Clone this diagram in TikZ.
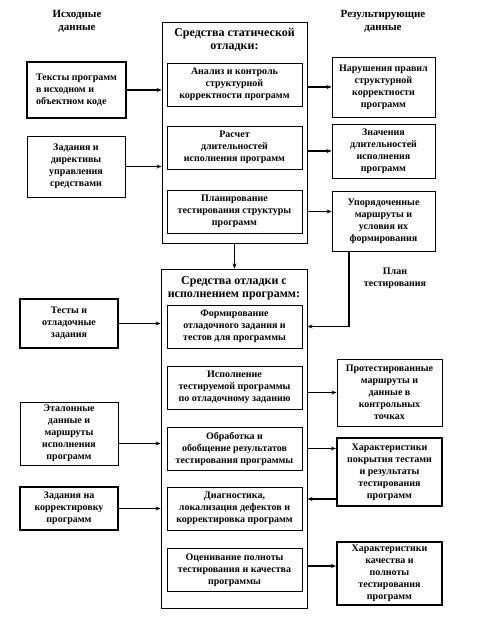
\documentclass[tikz,border=0pt]{standalone}
\usepackage{fontspec}
\setmainfont{Liberation Serif}
\usetikzlibrary{positioning,arrows.meta}
\tikzset{%
  every box/.style={
    draw,
    line width=0.9pt,
    align=center,
    inner sep=2pt,
    font=\bfseries\fontsize{10}{12}\selectfont
  },
  inner box/.style={
    minimum width=135pt,
    minimum height=43pt
  },
  box thick/.style={
    line width=2.2pt
  },
  heading/.style={
    align=center,
    font=\bfseries\fontsize{11}{13}\selectfont
  },
  title/.style={
    align=center,
    font=\bfseries\fontsize{12}{13.5}\selectfont
  },
}

\begin{document}
\begin{tikzpicture}[x=1pt, y=-1pt, >={Stealth[length=5pt, width=4pt]}]
        \useasboundingbox (0,0) rectangle (487,626);

        \node [heading] (src-head) at (77,21) {Исходные\\данные};
        \node [heading] (res-head) at (383,21) {Результирующие\\данные};

        % static debugging tools
        \node [every box/.try, minimum width=145pt, minimum height=221pt] (static) at (234.5,132.5) {};
        \node [title, below=3pt of static.north] (static-title) {Средства статической\\отладки:};
        \foreach \n/\y/\t in {anal/84.5/{Анализ и контроль\\структурной\\корректности программ},
                              calc/147.5/{Расчет\\длительностей\\исполнения программ},
                              plan/211.5/{Планирование\\тестирования структуры\\программ}}
          \node [every box/.try, inner box] (\n) at (234.5,\y) {\t};

        % debugging with execution
        \node [every box/.try, minimum width=146pt, minimum height=339pt] (exec-tools) at (234,438.5) {};
        \node [title, below=4pt of exec-tools.north] (exec-title) {Средства отладки с\\исполнением программ:};
        \foreach \n/\y/\t in {form/326.5/{Формирование\\отладочного задания и\\тестов для программы},
                              run/387.5/{Исполнение\\тестируемой программы\\по отладочному заданию},
                              proc/448.5/{Обработка  и\\обобщение результатов\\тестирования программы},
                              diag/508.5/{Диагностика,\\локализация  дефектов и\\корректировка программ},
                              eval/570/{Оценивание полноты\\тестирования и качества\\программы}}
          \node [every box/.try, inner box] (\n) at (234.5,\y) {\t};

        % source data
        \node [every box/.try, box thick, align=left, minimum width=99pt, minimum height=56pt] (texts) at (76.5,90)
          {Тексты программ\\в исходном и\\объектном коде};
        \node [every box/.try, minimum width=98pt, minimum height=61pt] (orders) at (76,166.5)
          {Задания и\\директивы\\управления\\средствами};
        \node [every box/.try, box thick, minimum width=98pt, minimum height=49pt] (tests) at (69,323.5)
          {Тесты и\\отладочные\\задания};
        \node [every box/.try, minimum width=98pt, minimum height=63pt] (etalon) at (69,433.5)
          {Эталонные\\данные  и\\маршруты\\исполнения\\программ};
        \node [every box/.try, box thick, minimum width=98pt, minimum height=43pt] (fixes) at (69,508.5)
          {Задания на\\корректировку\\программ};

        % resulting data
        \node [every box/.try, minimum width=103pt, minimum height=60pt] (rules) at (383.5,87)
          {Нарушения правил\\структурной\\корректности\\программ};
        \node [every box/.try, minimum width=103pt, minimum height=54pt] (times) at (383.5,151)
          {Значения\\длительностей\\исполнения\\программ};
        \node [every box/.try, minimum width=103pt, minimum height=60pt] (paths) at (383.5,221)
          {Упорядоченные\\маршруты и\\условия их\\формирования};
        \node [every box/.try, minimum width=105pt, minimum height=67pt] (tested) at (389.5,392.5)
          {Протестированные\\маршруты и\\данные в\\контрольных\\точках};
        \node [every box/.try, box thick, minimum width=105pt, minimum height=68pt] (cover) at (389.5,472)
          {Характеристики\\покрытия тестами\\и результаты\\тестирования\\программ};
        \node [every box/.try, box thick, minimum width=105pt, minimum height=63pt] (quality) at (389.5,573.5)
          {Характеристики\\качества и\\полноты\\тестирования\\программ};

        \node [heading, font=\bfseries\fontsize{10}{12}\selectfont] (plan-label) at (395,278) {План\\тестирования};

        \begin{scope}[line width=1.2pt]
        \foreach \s in {texts, orders}
          \draw [->] (\s.east) -- (\s.east -| static.west);
        \foreach \s in {tests, fixes}
          \draw [->] (\s.east) -- (\s.east -| exec-tools.west);
        \draw [->] ([yshift=-10pt]etalon.east) -- ([yshift=-10pt]etalon.east -| exec-tools.west);

        \foreach \t in {rules, times}
          \draw [->] (\t.west -| static.east) -- (\t.west);
        \draw [->] (plan.east -| static.east) -- (plan.east -| paths.west);

        \draw [->] (static.south) -- (static.south |- exec-tools.north);
        \draw [->] ([xshift=-34.5pt]paths.south) |- (form.east -| exec-tools.east);

        \draw [->] (tested.west -| exec-tools.east) -- (tested.west);
        \draw [->] (proc.east -| exec-tools.east) -- (proc.east -| cover.west);
        \draw [->] ([yshift=-27pt]cover.west) -- ([yshift=-27pt]cover.west -| exec-tools.east);
        \draw [->] ([yshift=4pt]eval.east -| exec-tools.east) -- ([yshift=4pt]eval.east -| quality.west);
        \end{scope}
\end{tikzpicture}
\end{document}
